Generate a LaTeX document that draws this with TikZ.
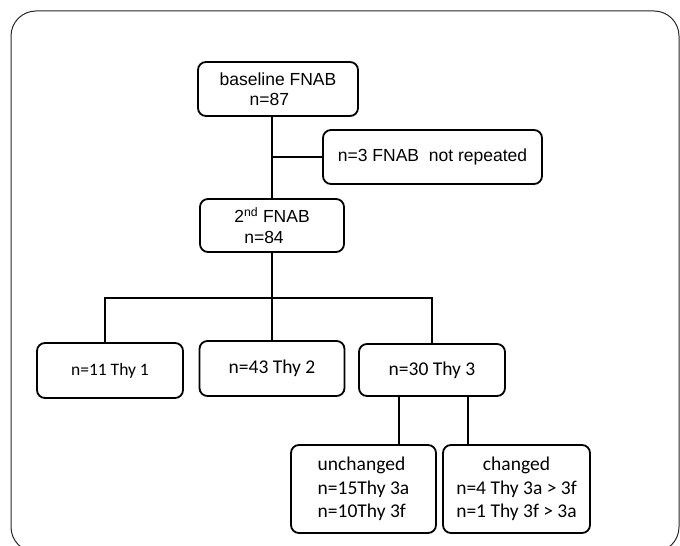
\documentclass[tikz,border=0pt]{standalone}
\usepackage{fontspec}
\setmainfont{Liberation Sans}
\newfontfamily\calibri{Carlito}
\tikzset{
    flowbox/.style={draw, rounded corners=8bp, line width=1.8bp, inner sep=0pt, align=center},
    arialtxt/.style={font=\fontsize{17.5bp}{20.5bp}\selectfont},
    calibtxt/.style={font=\calibri\fontsize{19.5bp}{23.5bp}\selectfont},
    link/.style={line width=2bp}
}

\begin{document}
\begin{tikzpicture}[x=1bp,y=-1bp]
\useasboundingbox (0,0) rectangle (680,546);
\begin{scope}
\clip (0,0) rectangle (680,546);
\draw[black!85, line width=1bp, rounded corners=25bp] (11,11) rectangle (679,552);
\end{scope}
% FNAB rounds
\node[flowbox,arialtxt,minimum width=160bp,minimum height=54bp,align=left] (base) at (278,89) {baseline FNAB\\\hspace*{30bp}n=87};
\node[flowbox,arialtxt,minimum width=219bp,minimum height=54bp] (notrep) at (432.5,157) {n=3 FNAB\ \ not repeated};
\node[flowbox,arialtxt,minimum width=144bp,minimum height=53bp,align=left] (second) at (272,225.5) {2\textsuperscript{nd} FNAB\\\hspace*{10bp}n=84};
% Thy classes
\node[flowbox,font=\calibri\fontsize{17.5bp}{21bp}\selectfont,minimum width=146bp,minimum height=55bp] (thy1) at (110,370.5) {n=11 Thy 1};
\node[flowbox,calibtxt,minimum width=145bp,minimum height=55bp] (thy2) at (272,368.5) {n=43 Thy 2};
\node[flowbox,calibtxt,minimum width=146bp,minimum height=52bp] (thy3) at (432,370) {n=30 Thy 3};
\node[flowbox,calibtxt,minimum width=145bp,minimum height=88bp,align=left] (unch) at (363.5,489) {unchanged\\n=15Thy 3a\\n=10Thy 3f};
\node[flowbox,calibtxt,minimum width=147bp,minimum height=88bp] (chg) at (516.5,489) {changed\\n=4 Thy 3a > 3f\\n=1 Thy 3f > 3a};
% connectors
\coordinate (split) at (272,298);
\draw[link] (second.north |- base.south) -- (second.north);
\draw[link] (notrep.west) -- (notrep.west -| second.north);
\draw[link] (second.south) -- (split);
\draw[link] ([xshift=-5bp]thy1.north) |- (split);
\draw[link] (thy2.north) -- (split);
\draw[link] (thy3.north) |- (split);
\coordinate (lft) at ([xshift=-33bp]thy3.south);
\coordinate (rgt) at ([xshift=36bp]thy3.south);
\draw[link] (lft) -- (lft |- unch.north);
\draw[link] (rgt) -- (rgt |- chg.north);
\end{tikzpicture}
\end{document}
